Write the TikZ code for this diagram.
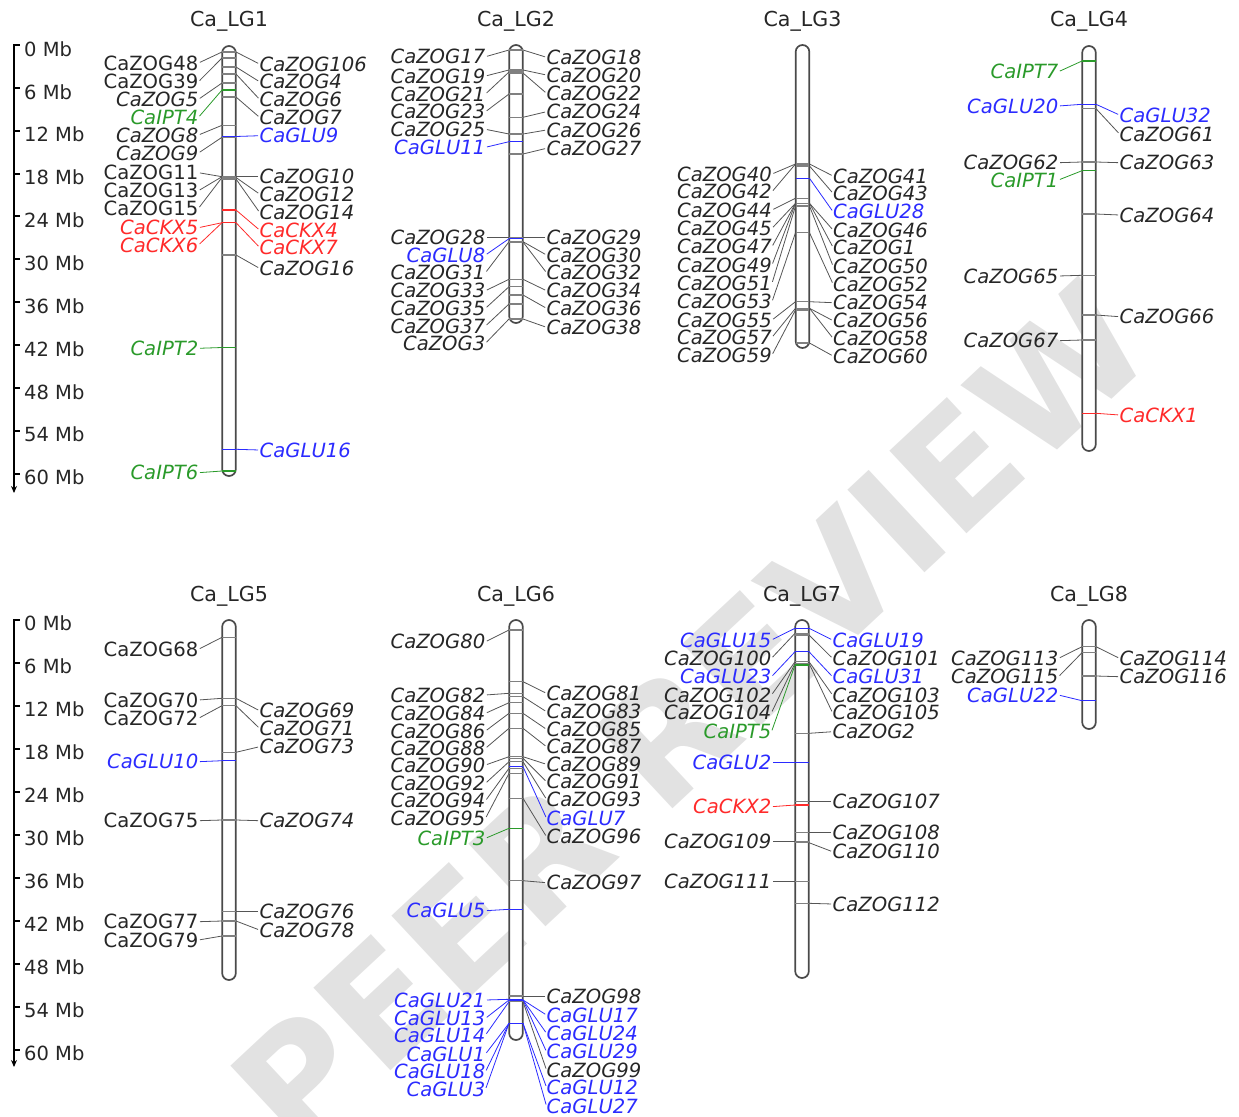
\documentclass[tikz,border=0pt]{standalone}
\usepackage{fontspec}
\setmainfont{DejaVu Sans}
\usetikzlibrary{arrows.meta}
\definecolor{zogtxt}{HTML}{262626}
\definecolor{zogcon}{HTML}{555555}
\definecolor{zogmk}{HTML}{808080}
\definecolor{glu}{HTML}{2B2BFF}
\definecolor{ipt}{HTML}{2A9A2A}
\definecolor{ckx}{HTML}{FF2A2A}
\definecolor{chromc}{HTML}{4A4A4A}
\definecolor{wmc}{HTML}{E2E2E2}
\newcommand\lf{\fontsize{19.6}{20}\selectfont}
\newcommand{\geneL}[6]{%
  \draw[mk,#5 mk] (#1-6.6,#2) -- (#1+6.6,#2);
  \node[lab,#5 txt,#6,anchor=east] (#4) at (#1-30.5,#3) {#4};
  \coordinate (#4m) at (#1-7,#2);
  \draw[con,#5 con] (#4.east) -- (#4m);
}
\newcommand{\geneR}[6]{%
  \draw[mk,#5 mk] (#1-6.6,#2) -- (#1+6.6,#2);
  \node[lab,#5 txt,#6,anchor=west] (#4) at (#1+30.5,#3) {#4};
  \coordinate (#4m) at (#1+7,#2);
  \draw[con,#5 con] (#4.west) -- (#4m);
}
\begin{document}
\begin{tikzpicture}[x=1pt,y=-1pt,
  lab/.style={inner sep=0pt,font=\lf},
  lit/.style={font=\lf\itshape},
  lup/.style={font=\lf},
  mk/.style={line width=1.2pt},
  con/.style={line width=0.8pt,shorten <=1.5pt},
  zog txt/.style={text=zogtxt}, zog con/.style={draw=zogcon}, zog mk/.style={draw=zogmk},
  glu txt/.style={text=glu}, glu con/.style={draw=glu}, glu mk/.style={draw=glu},
  ipt txt/.style={text=ipt}, ipt con/.style={draw=ipt}, ipt mk/.style={draw=ipt},
  ckx txt/.style={text=ckx}, ckx con/.style={draw=ckx}, ckx mk/.style={draw=ckx},
  chrom/.style={draw=chromc,line width=1.7pt,fill=white,rounded corners=6.8pt,minimum width=13.6pt,inner sep=0pt},
  ttl/.style={inner sep=0pt,font=\fontsize{20.6}{21}\selectfont,text=zogtxt},
  mb/.style={inner sep=0pt,font=\fontsize{19.5}{20}\selectfont,text=zogtxt,anchor=west},
  axis/.style={line width=2pt,black}
]
\useasboundingbox (0,0) rectangle (1239,1116);
% watermark
\node[rotate=43,text=wmc,font=\fontsize{155}{155}\selectfont\bfseries,inner sep=0pt] (wmark) at (690,715) {PEER REVIEW};

% scale bars
\coordinate (ta) at (14,45);
\coordinate (tb) at (14,493);
\draw[axis,-{Stealth[length=7pt,width=6pt]}] (ta) -- (tb);
\foreach \i in {0,...,10}{
  \pgfmathtruncatemacro\mbv{6*\i}
  \draw[line width=2pt] (13,45+42.85*\i) -- (19.5,45+42.85*\i);
  \node[mb] (sa\i) at (24,49+42.85*\i) {\mbv\ Mb};
}
\coordinate (ba) at (14,619.5);
\coordinate (bb) at (14,1067);
\draw[axis,-{Stealth[length=7pt,width=6pt]}] (ba) -- (bb);
\foreach \i in {0,...,10}{
  \pgfmathtruncatemacro\mbv{6*\i}
  \draw[line width=2pt] (13,619.5+43*\i) -- (19.5,619.5+43*\i);
  \node[mb] (sb\i) at (24,623.5+43*\i) {\mbv\ Mb};
}

% titles
\node[ttl] (tLG1) at (229,21) {Ca\_LG1};
\node[ttl] (tLG2) at (516,21) {Ca\_LG2};
\node[ttl] (tLG3) at (802.5,21) {Ca\_LG3};
\node[ttl] (tLG4) at (1089,21) {Ca\_LG4};
\node[ttl] (tLG5) at (229,596) {Ca\_LG5};
\node[ttl] (tLG6) at (516,596) {Ca\_LG6};
\node[ttl] (tLG7) at (802,596) {Ca\_LG7};
\node[ttl] (tLG8) at (1089,596) {Ca\_LG8};

% chromosomes
\node[chrom,minimum height=430pt] (LG1) at (229,261) {};
\node[chrom,minimum height=278pt] (LG2) at (516,184) {};
\node[chrom,minimum height=303pt] (LG3) at (802.5,196.5) {};
\node[chrom,minimum height=405pt] (LG4) at (1089,248.5) {};
\node[chrom,minimum height=360pt] (LG5) at (229,800) {};
\node[chrom,minimum height=420pt] (LG6) at (516,830) {};
\node[chrom,minimum height=358pt] (LG7) at (802,799) {};
\node[chrom,minimum height=109pt] (LG8) at (1089,674.5) {};

% LG1
\geneL{229}{52}{63}{CaZOG48}{zog}{lup}
\geneL{229}{58}{81.7}{CaZOG39}{zog}{lup}
\geneL{229}{83}{99.3}{CaZOG5}{zog}{lit}
\geneL{229}{90}{117.3}{CaIPT4}{ipt}{lit}
\geneL{229}{125.3}{135}{CaZOG8}{zog}{lit}
\geneL{229}{137.3}{153}{CaZOG9}{zog}{lit}
\geneL{229}{176.7}{172.7}{CaZOG11}{zog}{lup}
\geneL{229}{176.7}{190.7}{CaZOG13}{zog}{lup}
\geneL{229}{177.5}{208.3}{CaZOG15}{zog}{lup}
\geneL{229}{222.7}{227.7}{CaCKX5}{ckx}{lit}
\geneL{229}{222.7}{245}{CaCKX6}{ckx}{lit}
\geneL{229}{347.5}{348.3}{CaIPT2}{ipt}{lit}
\geneL{229}{471}{472.7}{CaIPT6}{ipt}{lit}
\geneR{229}{52}{64}{CaZOG106}{zog}{lit}
\geneR{229}{67}{81.7}{CaZOG4}{zog}{lit}
\geneR{229}{74}{99.3}{CaZOG6}{zog}{lit}
\geneR{229}{97}{117.3}{CaZOG7}{zog}{lit}
\geneR{229}{136.5}{135.7}{CaGLU9}{glu}{lit}
\geneR{229}{176.7}{176.7}{CaZOG10}{zog}{lit}
\geneR{229}{177.5}{194}{CaZOG12}{zog}{lit}
\geneR{229}{179}{212.3}{CaZOG14}{zog}{lit}
\geneR{229}{210}{230}{CaCKX4}{ckx}{lit}
\geneR{229}{222.7}{247.3}{CaCKX7}{ckx}{lit}
\geneR{229}{255}{268.3}{CaZOG16}{zog}{lit}
\geneR{229}{449.3}{450}{CaGLU16}{glu}{lit}

% LG2
\geneL{516}{50}{56.7}{CaZOG17}{zog}{lit}
\geneL{516}{70}{76}{CaZOG19}{zog}{lit}
\geneL{516}{72}{94}{CaZOG21}{zog}{lit}
\geneL{516}{94}{111.7}{CaZOG23}{zog}{lit}
\geneL{516}{134}{129.3}{CaZOG25}{zog}{lit}
\geneL{516}{141.7}{147.3}{CaGLU11}{glu}{lit}
\geneL{516}{237.3}{237.3}{CaZOG28}{zog}{lit}
\geneL{516}{238.7}{255}{CaGLU8}{glu}{lit}
\geneL{516}{241.7}{272.7}{CaZOG31}{zog}{lit}
\geneL{516}{279.3}{290.7}{CaZOG33}{zog}{lit}
\geneL{516}{286.7}{308.3}{CaZOG35}{zog}{lit}
\geneL{516}{304}{326}{CaZOG37}{zog}{lit}
\geneL{516}{319}{343.3}{CaZOG3}{zog}{lit}
\geneR{516}{50}{57.3}{CaZOG18}{zog}{lit}
\geneR{516}{70}{75}{CaZOG20}{zog}{lit}
\geneR{516}{73}{93.3}{CaZOG22}{zog}{lit}
\geneR{516}{117.3}{111.7}{CaZOG24}{zog}{lit}
\geneR{516}{134}{130}{CaZOG26}{zog}{lit}
\geneR{516}{154}{148.3}{CaZOG27}{zog}{lit}
\geneR{516}{237.3}{237.3}{CaZOG29}{zog}{lit}
\geneR{516}{241.7}{255}{CaZOG30}{zog}{lit}
\geneR{516}{242}{272.7}{CaZOG32}{zog}{lit}
\geneR{516}{279.3}{290.7}{CaZOG34}{zog}{lit}
\geneR{516}{295}{308.3}{CaZOG36}{zog}{lit}
\geneR{516}{319}{327.3}{CaZOG38}{zog}{lit}

% LG3
\geneL{802.5}{164}{174}{CaZOG40}{zog}{lit}
\geneL{802.5}{164}{191.7}{CaZOG42}{zog}{lit}
\geneL{802.5}{198.3}{210}{CaZOG44}{zog}{lit}
\geneL{802.5}{203.3}{228.3}{CaZOG45}{zog}{lit}
\geneL{802.5}{203.3}{246.7}{CaZOG47}{zog}{lit}
\geneL{802.5}{203.3}{265}{CaZOG49}{zog}{lit}
\geneL{802.5}{206}{283.3}{CaZOG51}{zog}{lit}
\geneL{802.5}{232.7}{301.7}{CaZOG53}{zog}{lit}
\geneL{802.5}{301.7}{320}{CaZOG55}{zog}{lit}
\geneL{802.5}{308.3}{337.3}{CaZOG57}{zog}{lit}
\geneL{802.5}{310}{355}{CaZOG59}{zog}{lit}
\geneR{802.5}{164}{176}{CaZOG41}{zog}{lit}
\geneR{802.5}{166}{193.3}{CaZOG43}{zog}{lit}
\geneR{802.5}{178.3}{211.7}{CaGLU28}{glu}{lit}
\geneR{802.5}{203.3}{230}{CaZOG46}{zog}{lit}
\geneR{802.5}{203.3}{247.3}{CaZOG1}{zog}{lit}
\geneR{802.5}{206}{266}{CaZOG50}{zog}{lit}
\geneR{802.5}{232.7}{284}{CaZOG52}{zog}{lit}
\geneR{802.5}{301.7}{302.7}{CaZOG54}{zog}{lit}
\geneR{802.5}{308.3}{320.7}{CaZOG56}{zog}{lit}
\geneR{802.5}{308.3}{338.3}{CaZOG58}{zog}{lit}
\geneR{802.5}{343}{356}{CaZOG60}{zog}{lit}

% LG4
\geneL{1089}{61}{71.7}{CaIPT7}{ipt}{lit}
\geneL{1089}{104.3}{106}{CaGLU20}{glu}{lit}
\geneL{1089}{162}{162.7}{CaZOG62}{zog}{lit}
\geneL{1089}{170.7}{180}{CaIPT1}{ipt}{lit}
\geneL{1089}{275.3}{276}{CaZOG65}{zog}{lit}
\geneL{1089}{340}{340.7}{CaZOG67}{zog}{lit}
\geneR{1089}{104.3}{115}{CaGLU32}{glu}{lit}
\geneR{1089}{108.7}{134}{CaZOG61}{zog}{lit}
\geneR{1089}{162}{162.7}{CaZOG63}{zog}{lit}
\geneR{1089}{214}{215}{CaZOG64}{zog}{lit}
\geneR{1089}{315}{316.7}{CaZOG66}{zog}{lit}
\geneR{1089}{413.3}{415}{CaCKX1}{ckx}{lit}

% LG5
\geneL{229}{637.3}{649.3}{CaZOG68}{zog}{lup}
\geneL{229}{698.3}{700}{CaZOG70}{zog}{lup}
\geneL{229}{705.7}{718.3}{CaZOG72}{zog}{lup}
\geneL{229}{760.7}{761.7}{CaGLU10}{glu}{lit}
\geneL{229}{820}{820.7}{CaZOG75}{zog}{lup}
\geneL{229}{921}{921.7}{CaZOG77}{zog}{lup}
\geneL{229}{936}{940}{CaZOG79}{zog}{lup}
\geneR{229}{698.3}{710.7}{CaZOG69}{zog}{lit}
\geneR{229}{705.7}{728.3}{CaZOG71}{zog}{lit}
\geneR{229}{752.3}{746.7}{CaZOG73}{zog}{lit}
\geneR{229}{820}{820.7}{CaZOG74}{zog}{lit}
\geneR{229}{911.7}{911.7}{CaZOG76}{zog}{lit}
\geneR{229}{921}{930}{CaZOG78}{zog}{lit}

% LG6
\geneL{516}{630}{641.7}{CaZOG80}{zog}{lit}
\geneL{516}{693.3}{695}{CaZOG82}{zog}{lit}
\geneL{516}{702.7}{713.3}{CaZOG84}{zog}{lit}
\geneL{516}{713.3}{731}{CaZOG86}{zog}{lit}
\geneL{516}{728.3}{748.3}{CaZOG88}{zog}{lit}
\geneL{516}{756.7}{765}{CaZOG90}{zog}{lit}
\geneL{516}{761.7}{783.3}{CaZOG92}{zog}{lit}
\geneL{516}{768.3}{800.7}{CaZOG94}{zog}{lit}
\geneL{516}{773.3}{818.3}{CaZOG95}{zog}{lit}
\geneL{516}{828.3}{838.3}{CaIPT3}{ipt}{lit}
\geneL{516}{909.3}{910.7}{CaGLU5}{glu}{lit}
\geneL{516}{999.3}{1000}{CaGLU21}{glu}{lit}
\geneL{516}{1000}{1018.3}{CaGLU13}{glu}{lit}
\geneL{516}{1001.7}{1035}{CaGLU14}{glu}{lit}
\geneL{516}{1023.3}{1054}{CaGLU1}{glu}{lit}
\geneL{516}{1023.3}{1071.7}{CaGLU18}{glu}{lit}
\geneL{516}{1023.3}{1089.3}{CaGLU3}{glu}{lit}
\geneR{516}{681.7}{693.3}{CaZOG81}{zog}{lit}
\geneR{516}{696.7}{711.7}{CaZOG83}{zog}{lit}
\geneR{516}{713.3}{729.3}{CaZOG85}{zog}{lit}
\geneR{516}{728.3}{746.7}{CaZOG87}{zog}{lit}
\geneR{516}{756.7}{764.3}{CaZOG89}{zog}{lit}
\geneR{516}{758.3}{781.7}{CaZOG91}{zog}{lit}
\geneR{516}{761.7}{799.3}{CaZOG93}{zog}{lit}
\geneR{516}{766.7}{818.3}{CaGLU7}{glu}{lit}
\geneR{516}{798.3}{836.7}{CaZOG96}{zog}{lit}
\geneR{516}{880.7}{882.7}{CaZOG97}{zog}{lit}
\geneR{516}{996}{996}{CaZOG98}{zog}{lit}
\geneR{516}{1000}{1015}{CaGLU17}{glu}{lit}
\geneR{516}{1000}{1033.3}{CaGLU24}{glu}{lit}
\geneR{516}{1000}{1051.7}{CaGLU29}{glu}{lit}
\geneR{516}{1001.7}{1070}{CaZOG99}{zog}{lit}
\geneR{516}{1023.3}{1087.3}{CaGLU12}{glu}{lit}
\geneR{516}{1023.3}{1106}{CaGLU27}{glu}{lit}

% LG7
\geneL{802}{628.3}{640}{CaGLU15}{glu}{lit}
\geneL{802}{633.3}{658.3}{CaZOG100}{zog}{lit}
\geneL{802}{651.7}{676.7}{CaGLU23}{glu}{lit}
\geneL{802}{661.7}{695}{CaZOG102}{zog}{lit}
\geneL{802}{663.3}{712.7}{CaZOG104}{zog}{lit}
\geneL{802}{665}{731.7}{CaIPT5}{ipt}{lit}
\geneL{802}{762.7}{762.7}{CaGLU2}{glu}{lit}
\geneL{802}{805}{806.7}{CaCKX2}{ckx}{lit}
\geneL{802}{841.7}{841.7}{CaZOG109}{zog}{lit}
\geneL{802}{881.7}{881.7}{CaZOG111}{zog}{lit}
\geneR{802}{628.3}{640}{CaGLU19}{glu}{lit}
\geneR{802}{635}{658.3}{CaZOG101}{zog}{lit}
\geneR{802}{651.7}{676.7}{CaGLU31}{glu}{lit}
\geneR{802}{661.7}{695}{CaZOG103}{zog}{lit}
\geneR{802}{663.3}{712.7}{CaZOG105}{zog}{lit}
\geneR{802}{733.3}{731.7}{CaZOG2}{zog}{lit}
\geneR{802}{801.7}{801.7}{CaZOG107}{zog}{lit}
\geneR{802}{832.7}{832.7}{CaZOG108}{zog}{lit}
\geneR{802}{842.7}{851.7}{CaZOG110}{zog}{lit}
\geneR{802}{903.3}{904}{CaZOG112}{zog}{lit}

% LG8
\geneL{1089}{646.7}{658.3}{CaZOG113}{zog}{lit}
\geneL{1089}{652.7}{676.7}{CaZOG115}{zog}{lit}
\geneL{1089}{700.7}{695}{CaGLU22}{glu}{lit}
\geneR{1089}{646.7}{658.3}{CaZOG114}{zog}{lit}
\geneR{1089}{676}{676.7}{CaZOG116}{zog}{lit}
\end{tikzpicture}
\end{document}
